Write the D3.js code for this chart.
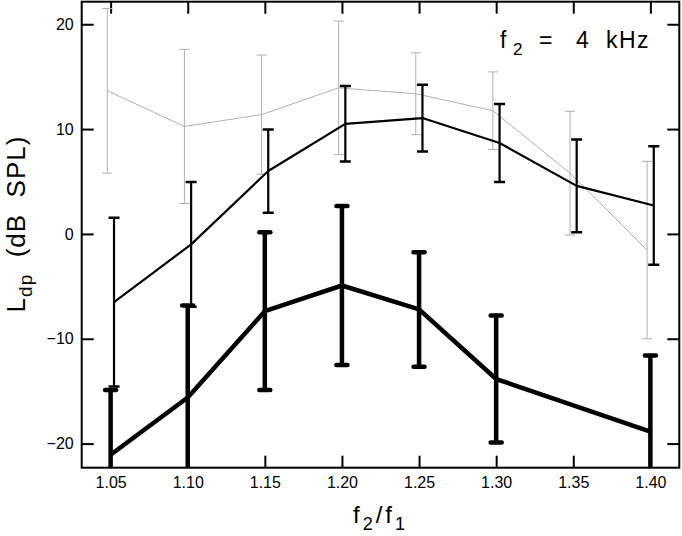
<!DOCTYPE html>
<html>
<head>
<meta charset="utf-8">
<script src="https://cdn.jsdelivr.net/npm/d3@7"></script>
<style>
  body { margin: 0; background: #fff; }
  text { font-family: "Liberation Sans", Arial, sans-serif; fill: #000; }
</style>
</head>
<body>
<script>
// f2/f1 ratios on the x axis
const ratios = [1.05, 1.10, 1.15, 1.20, 1.25, 1.30, 1.35, 1.40];
const yTicks = [-20, -10, 0, 10, 20];

// grey series (thin)
const greyMean = [13.65, 10.25, 11.38, 13.93, 13.37, 11.75, 5.8, -1.54];
const greySd   = [7.85, 7.35, 5.68, 6.37, 3.9, 3.7, 5.9, 8.46];

// medium black series
const midMean = [-6.5, -1.0, 6.0, 10.5, 11.05, 8.67, 4.58, 2.71];
const midSd   = [8.05, 5.95, 3.97, 3.6, 3.19, 3.72, 4.42, 5.65];

// thick black series (no value at 1.35)
const thickMean = [-21.06, -15.6, -7.37, -4.92, -7.2, -13.84, null, -18.86];
const thickSd   = [6.16, 8.77, 7.53, 7.58, 5.46, 6.06, null, 7.26];

const W = 682, H = 536;
const margin = { top: 1.7, right: 2.7, bottom: 68.3, left: 81.7 };
const width = W - margin.left - margin.right,
  height = H - margin.top - margin.bottom;

const x = d3.scaleLinear().domain([1.03125, 1.41875]).range([0, width]);
const y = d3.scaleLinear().domain([-22.3, 22.15]).range([height, 0]);

const svg = d3.select('body').append('svg')
  .attr('width', W)
  .attr('height', H);

const g = svg.append('g')
  .attr('transform', `translate(${margin.left},${margin.top})`);

g.append('clipPath').attr('id', 'plotclip')
  .append('rect').attr('width', width).attr('height', height);

// axes with inward ticks on all four sides
const fmt = d3.format('.2f');
g.append('g')
  .attr('transform', `translate(0,${height})`)
  .call(d3.axisBottom(x).tickValues(ratios).tickFormat(fmt)
    .tickSizeInner(-12).tickSizeOuter(0).tickPadding(9));
g.append('g')
  .call(d3.axisTop(x).tickValues(ratios).tickFormat('')
    .tickSizeInner(-12).tickSizeOuter(0));
const yAxis = g.append('g')
  .call(d3.axisLeft(y).tickValues(yTicks).tickFormat(d3.format('d'))
    .tickSizeInner(-12).tickSizeOuter(0).tickPadding(8));
g.append('g')
  .attr('transform', `translate(${width},0)`)
  .call(d3.axisRight(y).tickValues(yTicks).tickFormat('')
    .tickSizeInner(-12).tickSizeOuter(0));

g.selectAll('.domain').remove();
g.selectAll('.tick line').attr('stroke', '#000').attr('stroke-width', 2);
g.selectAll('.tick text')
  .style('font-size', '16px')
  .style('font-family', '"Liberation Sans", Arial, sans-serif')
  .attr('fill', '#000');
// minus sign as in the original
yAxis.selectAll('.tick text').text(d => (d < 0 ? '\u2212' : '') + Math.abs(d));

const plot = g.append('g').attr('clip-path', 'url(#plotclip)');

function series(mean, sd, opt) {
  const pts = ratios.map((r, i) => ({ r, m: mean[i], s: sd[i] }))
    .filter(d => d.m !== null);
  const px = d => x(d.r) + opt.dx;

  const line = d3.line().x(px).y(d => y(d.m));
  plot.append('path')
    .datum(pts)
    .attr('fill', 'none')
    .attr('stroke', opt.color)
    .attr('stroke-width', opt.lw)
    .attr('stroke-linejoin', 'round')
    .attr('d', line);

  const bars = plot.append('g').selectAll('g').data(pts).join('g');
  bars.append('line')
    .attr('x1', px).attr('x2', px)
    .attr('y1', d => y(d.m - d.s)).attr('y2', d => y(d.m + d.s))
    .attr('stroke', opt.color).attr('stroke-width', opt.bw);
  [-1, 1].forEach(sign => {
    bars.append('line')
      .attr('x1', d => px(d) - opt.cap / 2).attr('x2', d => px(d) + opt.cap / 2)
      .attr('y1', d => y(d.m + sign * d.s)).attr('y2', d => y(d.m + sign * d.s))
      .attr('stroke', opt.color).attr('stroke-width', opt.cw)
      .attr('stroke-linecap', opt.round ? 'round' : 'butt');
  });
}

series(greyMean, greySd, { color: '#b0b0b0', lw: 1, bw: 1, cw: 1, cap: 10, dx: -3.3 });
series(midMean, midSd, { color: '#000', lw: 2.2, bw: 2.2, cw: 2.5, cap: 11, dx: 3.4 });
series(thickMean, thickSd, { color: '#000', lw: 4.5, bw: 4.5, cw: 4.5, cap: 11, dx: 0, round: true });

// frame
g.append('rect')
  .attr('width', width).attr('height', height)
  .attr('fill', 'none').attr('stroke', '#000').attr('stroke-width', 2);

// condition label
const lab = svg.append('text')
  .attr('y', 47.5)
  .style('font-size', '23px');
lab.append('tspan').attr('x', 500).text('f');
lab.append('tspan').attr('x', 513).attr('dy', 7).style('font-size', '17px').text('2');
lab.append('tspan').attr('x', 539).attr('dy', -7).text('=');
lab.append('tspan').attr('x', 576).text('4');
lab.append('tspan').attr('x', 606).attr('letter-spacing', 1.5).text('kHz');

// x axis title
const xt = svg.append('text')
  .attr('x', margin.left + width / 2)
  .attr('y', 523)
  .attr('text-anchor', 'middle')
  .attr('letter-spacing', 3)
  .style('font-size', '24px');
xt.append('tspan').text('f');
xt.append('tspan').attr('dy', 7).style('font-size', '18px').text('2');
xt.append('tspan').attr('dy', -7).text('/f');
xt.append('tspan').attr('dy', 7).style('font-size', '18px').text('1');

// y axis title
const yt = svg.append('text')
  .attr('transform', 'translate(25,224) rotate(-90)')
  .attr('text-anchor', 'middle')
  .attr('letter-spacing', 1)
  .style('font-size', '26px')
  .style('white-space', 'pre');
yt.append('tspan').text('L');
yt.append('tspan').attr('dy', 7).style('font-size', '19px').text('dp');
yt.append('tspan').attr('dy', -7).text('  (dB  SPL)');
</script>
</body>
</html>
